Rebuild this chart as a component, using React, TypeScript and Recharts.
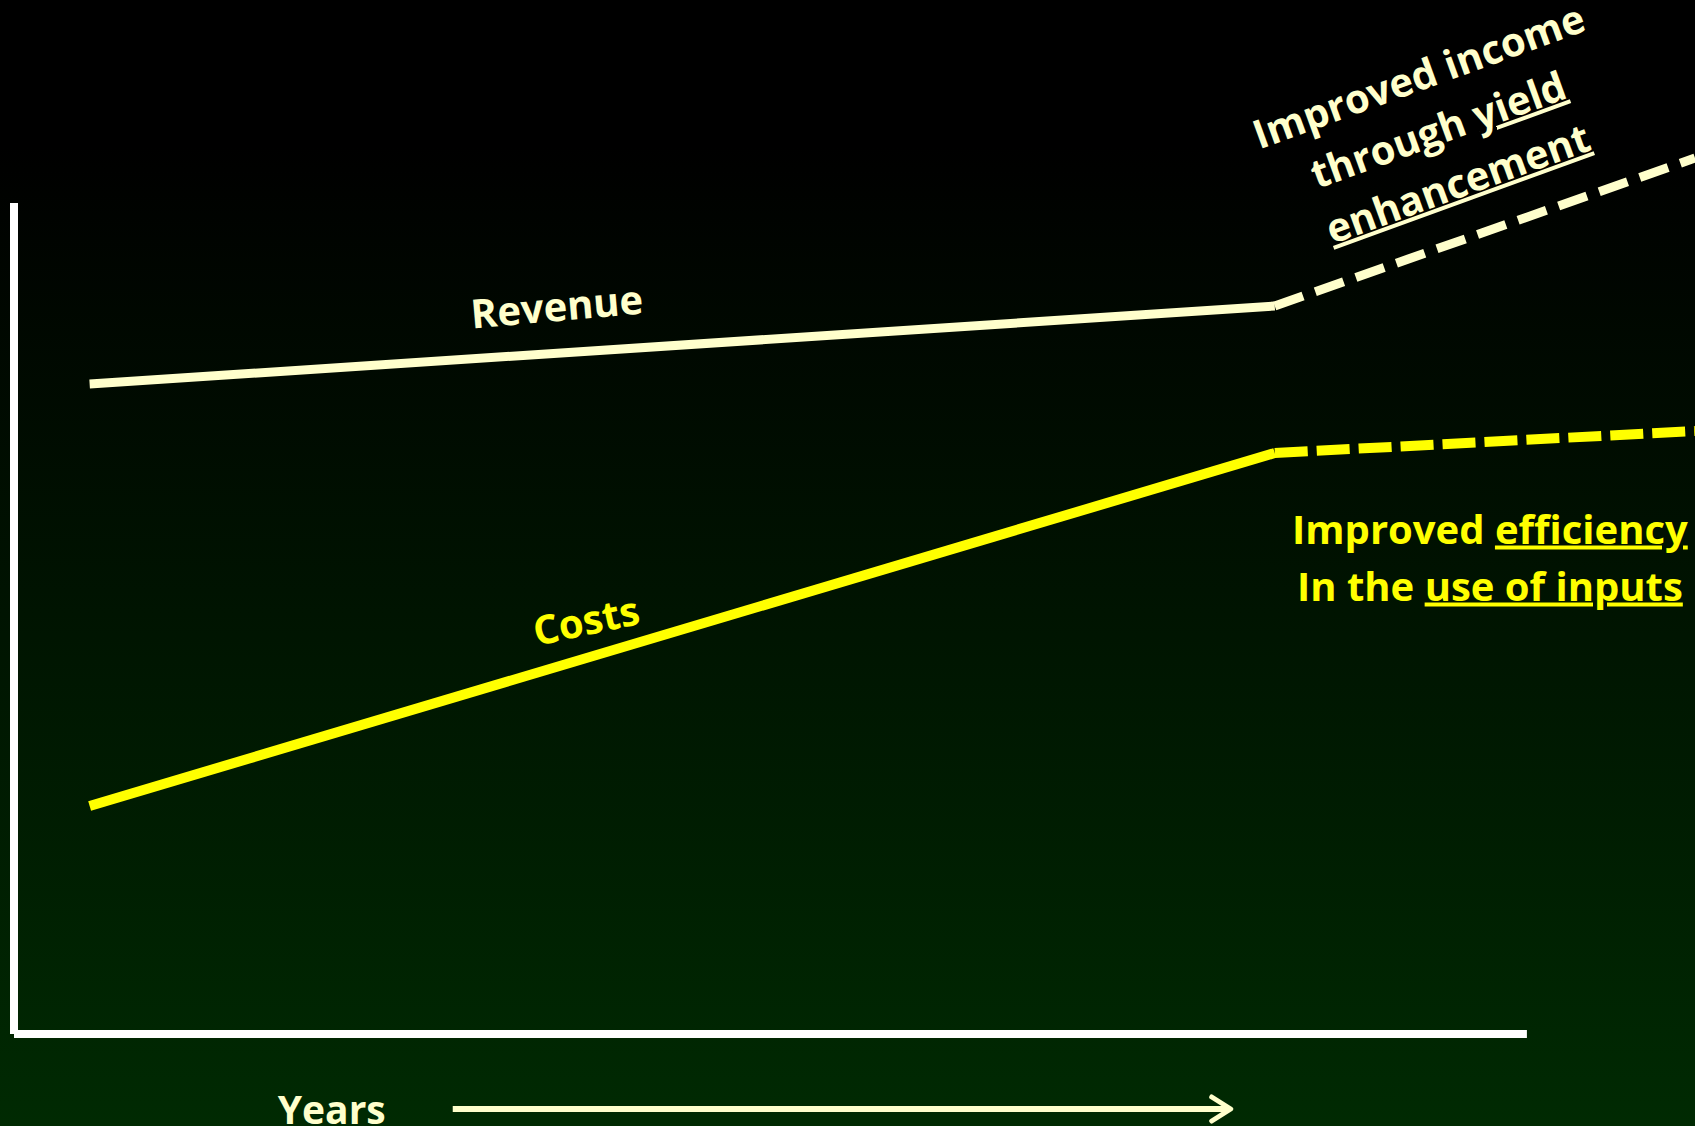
import React from "react";
import { LineChart, Line, XAxis, YAxis, ReferenceLine, ReferenceDot } from "recharts";

// x = years, y = money (arbitrary units)
const years = [0.9, 15, 20];
const revenue = [6.5, 7.28, null];
const revenueOutlook = [null, 7.28, 8.76];
const costs = [2.28, 5.81, null];
const costsOutlook = [null, 5.81, 6.03];

const xAxisEnd = 18;
const yAxisTop = 8.31;
const arrowFrom = 5.22;
const arrowTo = 14.5;
const arrowLevel = -0.75;

const CREAM = "#FFFFCC";
const YELLOW = "#FFFF00";
const FONT = "'Open Sans', sans-serif";

type Seg = { t: string; u?: boolean };

const data = years.map((year, i) => ({
  year,
  revenue: revenue[i],
  revenueOutlook: revenueOutlook[i],
  costs: costs[i],
  costsOutlook: costsOutlook[i],
}));

function TextBlock(props: any) {
  const { viewBox, lines, angle = 0, color, size = 40, gap = 57, shift = 13 } = props;
  if (!viewBox) return null;
  const cx = viewBox.x + viewBox.width / 2;
  const cy = viewBox.y + viewBox.height / 2;
  const first = -((lines.length - 1) * gap) / 2;
  return (
    <g transform={`translate(${cx},${cy}) rotate(${angle})`}>
      {lines.map((segs: Seg[], i: number) => (
        <text
          key={i}
          x={0}
          y={first + i * gap + shift}
          textAnchor="middle"
          fill={color}
          fontSize={size}
          fontWeight={700}
          fontFamily={FONT}
        >
          {segs.map((s, j) => (
            <tspan key={j} style={s.u ? { textDecoration: "underline" } : undefined}>
              {s.t}
            </tspan>
          ))}
        </text>
      ))}
    </g>
  );
}

function YearsArrow(props: any) {
  const { x1, y1, x2, y2 } = props;
  return (
    <g>
      <line x1={x1} y1={y1} x2={x2 - 3} y2={y2} stroke={CREAM} strokeWidth={6} />
      <polyline
        points={`${x2 - 21},${y2 - 12} ${x2 - 2},${y2} ${x2 - 21},${y2 + 12}`}
        fill="none"
        stroke={CREAM}
        strokeWidth={5}
        strokeLinejoin="round"
        strokeLinecap="round"
      />
      <text
        x={x1 - 67}
        y={y1 + 15}
        textAnchor="end"
        fill={CREAM}
        fontSize={39}
        fontWeight={700}
        fontFamily={FONT}
      >
        Years
      </text>
    </g>
  );
}

const hidden = { fill: "none", stroke: "none" };

export default function App() {
  return (
    <div
      style={{
        position: "absolute",
        left: 0,
        top: 0,
        width: 1695,
        height: 1126,
        overflow: "hidden",
        background: "linear-gradient(to bottom, #000000 0%, #000000 13%, #002a02 100%)",
      }}
    >
      <style>{`body{margin:0;overflow:hidden}`}</style>
      <LineChart width={1695} height={1126} data={data} margin={{ top: 34, right: 0, bottom: 92, left: 14 }}>
        <XAxis type="number" dataKey="year" domain={[0, 20]} allowDataOverflow hide />
        <YAxis type="number" domain={[0, 10]} allowDataOverflow hide />

        <ReferenceLine segment={[{ x: 0, y: 0 }, { x: 0, y: yAxisTop }]} stroke="#FFFFFF" strokeWidth={8} />
        <ReferenceLine segment={[{ x: 0, y: 0 }, { x: xAxisEnd, y: 0 }]} stroke="#FFFFFF" strokeWidth={8} />
        <ReferenceLine
          segment={[{ x: arrowFrom, y: arrowLevel }, { x: arrowTo, y: arrowLevel }]}
          ifOverflow="visible"
          shape={(p: any) => <YearsArrow {...p} />}
        />

        <Line dataKey="revenue" stroke={CREAM} strokeWidth={9} dot={false} activeDot={false} isAnimationActive={false} />
        <Line dataKey="revenueOutlook" stroke={CREAM} strokeWidth={9} strokeDasharray="30 13" dot={false} activeDot={false} isAnimationActive={false} />
        <Line dataKey="costs" stroke={YELLOW} strokeWidth={10} dot={false} activeDot={false} isAnimationActive={false} />
        <Line dataKey="costsOutlook" stroke={YELLOW} strokeWidth={10} strokeDasharray="33 9" dot={false} activeDot={false} isAnimationActive={false} />

        <ReferenceDot x={6.46} y={7.26} r={1} {...hidden}
          label={(p: any) => <TextBlock {...p} lines={[[{ t: "Revenue" }]]} angle={-5} color={CREAM} size={40} />} />
        <ReferenceDot x={6.81} y={4.12} r={1} {...hidden}
          label={(p: any) => <TextBlock {...p} lines={[[{ t: "Costs" }]]} angle={-12} color={YELLOW} size={40} />} />
        <ReferenceDot x={16.95} y={9.03} r={1} {...hidden}
          label={(p: any) => (
            <TextBlock
              {...p}
              lines={[
                [{ t: "Improved income" }],
                [{ t: "through " }, { t: "yield", u: true }],
                [{ t: "enhancement", u: true }],
              ]}
              angle={-20}
              color={CREAM}
              size={40}
              gap={57}
            />
          )} />
        <ReferenceDot x={17.56} y={4.76} r={1} {...hidden}
          label={(p: any) => (
            <TextBlock
              {...p}
              lines={[
                [{ t: "Improved " }, { t: "efficiency", u: true }],
                [{ t: "In the " }, { t: "use of inputs", u: true }],
              ]}
              color={YELLOW}
              size={40}
              gap={57}
              shift={14}
            />
          )} />
      </LineChart>
    </div>
  );
}
